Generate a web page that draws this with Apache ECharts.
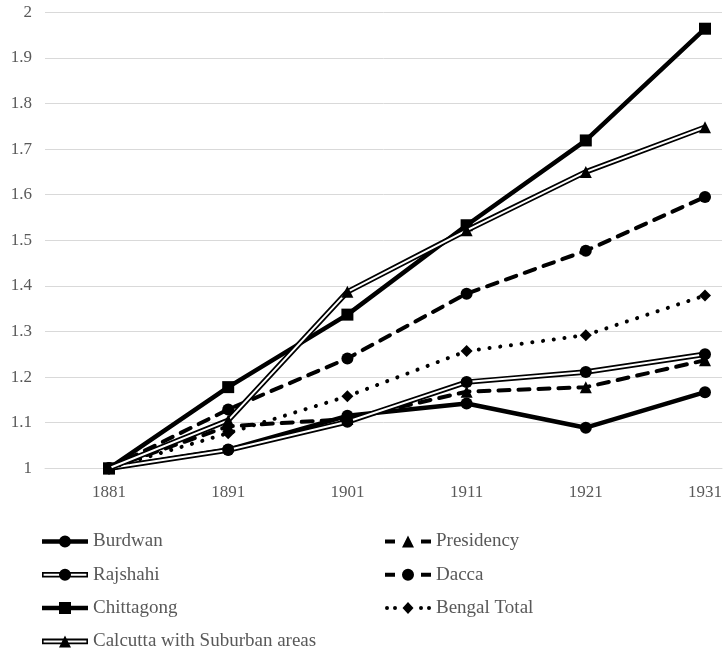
<!DOCTYPE html>
<html><head><meta charset="utf-8">
<script src="https://cdn.jsdelivr.net/npm/echarts@6/dist/echarts.min.js"></script>
<style>html,body{margin:0;padding:0;background:#fff}#c{width:728px;height:666px}</style>
</head><body><div id="c"></div>
<script>
// ---- data ----
const years = [1881, 1891, 1901, 1911, 1921, 1931];
const burdwan     = [1.0, 1.041, 1.115, 1.142, 1.089, 1.167];
const presidency  = [1.0, 1.092, 1.108, 1.168, 1.178, 1.237];
const rajshahi    = [1.0, 1.040, 1.102, 1.189, 1.211, 1.250];
const dacca       = [1.0, 1.129, 1.241, 1.383, 1.477, 1.595];
const chittagong  = [1.0, 1.178, 1.337, 1.533, 1.719, 1.964];
const bengalTotal = [1.0, 1.077, 1.158, 1.257, 1.292, 1.379];
const calcutta    = [1.0, 1.105, 1.387, 1.522, 1.650, 1.748];
const yTickLabels = ['1', '1.1', '1.2', '1.3', '1.4', '1.5', '1.6', '1.7', '1.8', '1.9', '2'];
const xTickLabels = ['1881', '1891', '1901', '1911', '1921', '1931'];

// ---- legend icon paths (46 x 12 box) ----
function rect(x0, y0, x1, y1, ccw) {
  return ccw ? `M${x0} ${y0}L${x0} ${y1}L${x1} ${y1}L${x1} ${y0}Z`
             : `M${x0} ${y0}L${x1} ${y0}L${x1} ${y1}L${x0} ${y1}Z`;
}
function circ(cx, cy, r) {
  return `M${cx + r} ${cy}A${r} ${r} 0 1 1 ${cx - r} ${cy}A${r} ${r} 0 1 1 ${cx + r} ${cy}Z`;
}
function tri(cx, cy, w, h) {
  return `M${cx} ${cy - h / 2}L${cx + w / 2} ${cy + h / 2}L${cx - w / 2} ${cy + h / 2}Z`;
}
function diam(cx, cy, w, h) {
  return `M${cx} ${cy - h / 2}L${cx + w / 2} ${cy}L${cx} ${cy + h / 2}L${cx - w / 2} ${cy}Z`;
}
const IW = 46, IH = 12, CX = 23, CY = 6;
const icons = {
  solidCircle: 'path://' + rect(0, 3.75, IW, 8.25) + circ(CX, CY, 6),
  solidSquare: 'path://' + rect(0, 3.75, IW, 8.25) + rect(CX - 6, 0, CX + 6, 12),
  doubleCircle: 'path://' + rect(0, 3.2, IW, 8.8) + rect(1.6, 5, IW - 1.6, 7, true) + circ(CX, CY, 6),
  doubleTri: 'path://' + rect(0, 3.2, IW, 8.8) + rect(1.6, 5, IW - 1.6, 7, true) + tri(CX, CY, 12, 12),
  dashTri: 'path://' + rect(0, 4, 10, 8) + rect(36, 4, IW, 8) + tri(CX, CY, 12, 12),
  dashCircle: 'path://' + rect(0, 4, 10, 8) + rect(36, 4, IW, 8) + circ(CX, CY, 6),
  dotDiamond: 'path://' + circ(2, CY, 2) + circ(10, CY, 2) + circ(36, CY, 2) + circ(44, CY, 2) + diam(CX, CY, 11, 12)
};

// ---- series builders ----
const FONT = 'Liberation Serif';
const GREY = '#595959';
const pts = arr => years.map((y, i) => [y, arr[i]]);
const series = [];
let zBase = 10;
function single(name, arr, width, type, cap, symbol, symbolSize) {
  series.push({
    name, type: 'line', data: pts(arr), z: zBase,
    lineStyle: { color: '#000', width, type, cap, join: 'round' },
    itemStyle: { color: '#000', borderWidth: 0 },
    symbol, symbolSize, showSymbol: true, animation: false
  });
  zBase += 3;
}
function double(name, arr, symbol, symbolSize) {
  series.push({
    name, type: 'line', data: pts(arr), z: zBase, showSymbol: false, symbol: 'none',
    itemStyle: { color: '#000', borderWidth: 0 },
    lineStyle: { color: '#000', width: 5.5, join: 'round' }, animation: false
  });
  series.push({
    name: name + ' (inner)', type: 'line', data: pts(arr), z: zBase + 1, showSymbol: false, symbol: 'none',
    itemStyle: { color: '#fff' },
    lineStyle: { color: '#fff', width: 2, join: 'round' }, animation: false
  });
  series.push({
    name: name + ' (markers)', type: 'line', data: pts(arr), z: zBase + 2,
    lineStyle: { width: 0, opacity: 0 },
    itemStyle: { color: '#000', borderWidth: 0 },
    symbol, symbolSize, showSymbol: true, animation: false
  });
  zBase += 3;
}
single('Burdwan', burdwan, 4.5, 'solid', 'butt', 'circle', 12);
single('Presidency', presidency, 4, [11, 9], 'round', 'triangle', 12);
double('Rajshahi', rajshahi, 'circle', 12);
single('Dacca', dacca, 4, [11, 9], 'round', 'circle', 12);
single('Chittagong', chittagong, 4.5, 'solid', 'butt', 'rect', 12);
single('Bengal Total', bengalTotal, 4, [0.1, 10.7], 'round', 'diamond', 12);
double('Calcutta with Suburban areas', calcutta, 'triangle', 12);

const legendCommon = {
  orient: 'vertical', itemWidth: IW, itemHeight: IH, itemGap: 14.3,
  selectedMode: false,
  itemStyle: { borderWidth: 0 },
  textStyle: { fontFamily: FONT, fontSize: 19, color: GREY, lineHeight: 19 }
};

// x axis: grid spans 45..722; 1881 sits at ~109, 1931 at ~705
const GRID_L = 45, GRID_W = 677;
const pxPerYear = (705 - 109) / 50;
const xMin = 1881 - (109 - GRID_L) / pxPerYear;
const xMax = xMin + GRID_W / pxPerYear;

const chart = echarts.init(document.getElementById('c'), null, { renderer: 'canvas' });
chart.setOption({
  backgroundColor: '#fff',
  animation: false,
  grid: { left: GRID_L, top: 12.3, width: GRID_W, height: 456 },
  xAxis: {
    type: 'value', min: xMin, max: xMax,
    axisLine: { show: true, lineStyle: { color: '#d9d9d9', width: 1 } },
    axisTick: { show: false },
    axisLabel: {
      fontFamily: FONT, fontSize: 17, color: GREY, margin: 16,
      customValues: years,
      formatter: v => xTickLabels[years.indexOf(Math.round(v))]
    },
    splitLine: { show: false }
  },
  yAxis: {
    type: 'value', min: 1, max: 2, interval: 0.1,
    axisLine: { show: false }, axisTick: { show: false },
    axisLabel: {
      fontFamily: FONT, fontSize: 17, color: GREY, margin: 13,
      formatter: v => yTickLabels[Math.round((v - 1) * 10)]
    },
    splitLine: { lineStyle: { color: '#d9d9d9', width: 1 } }
  },
  legend: [
    Object.assign({}, legendCommon, {
      left: 37, top: 527,
      data: [
        { name: 'Burdwan', icon: icons.solidCircle },
        { name: 'Rajshahi', icon: icons.doubleCircle },
        { name: 'Chittagong', icon: icons.solidSquare },
        { name: 'Calcutta with Suburban areas', icon: icons.doubleTri }
      ]
    }),
    Object.assign({}, legendCommon, {
      left: 380, top: 527,
      data: [
        { name: 'Presidency', icon: icons.dashTri },
        { name: 'Dacca', icon: icons.dashCircle },
        { name: 'Bengal Total', icon: icons.dotDiamond }
      ]
    })
  ],
  series
});
</script></body></html>
